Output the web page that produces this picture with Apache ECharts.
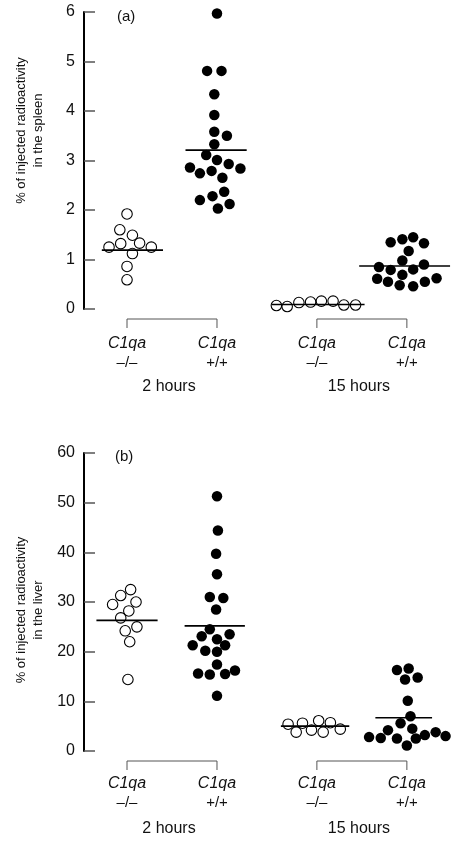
<!DOCTYPE html>
<html>
<head>
<meta charset="utf-8">
<script src="https://cdn.jsdelivr.net/npm/echarts@6/dist/echarts.min.js"></script>
<style>
html,body{margin:0;padding:0;background:#fff;}
#chart{width:456px;height:842px;}
</style>
</head>
<body>
<div id="chart"></div>
<script>
// ---- Data ----
const genotypes = ['–/–', '+/+', '–/–', '+/+'];
const timeLabels = ['2 hours', '15 hours'];
const geneName = 'C1qa';

// Spleen (% injected radioactivity)
const spleenKO2h = [1.92, 1.60, 1.49, 1.32, 1.33, 1.25, 1.25, 1.12, 0.86, 0.59];
const spleenKO2hJit = [0, -0.08, 0.06, -0.07, 0.14, -0.20, 0.27, 0.06, 0, 0];
const spleenWT2h = [5.97, 4.81, 4.81, 4.34, 3.92, 3.58, 3.50, 3.33, 3.11, 3.01, 2.93, 2.86, 2.84, 2.74, 2.79, 2.65, 2.37, 2.28, 2.20, 2.12, 2.03];
const spleenWT2hJit = [0, -0.11, 0.05, -0.03, -0.03, -0.03, 0.11, -0.03, -0.12, 0, 0.13, -0.30, 0.26, -0.19, -0.06, 0.06, 0.08, -0.05, -0.19, 0.14, 0.01];
const spleenKO15h = [0.07, 0.05, 0.13, 0.14, 0.16, 0.16, 0.08, 0.08];
const spleenKO15hJit = [-0.45, -0.33, -0.20, -0.07, 0.05, 0.18, 0.30, 0.43];
const spleenWT15h = [1.35, 1.41, 1.45, 1.33, 1.17, 0.98, 0.85, 0.79, 0.80, 0.90, 0.69, 0.61, 0.55, 0.48, 0.46, 0.55, 0.62];
const spleenWT15hJit = [-0.18, -0.05, 0.07, 0.19, 0.02, -0.05, -0.31, -0.18, 0.07, 0.19, -0.05, -0.33, -0.21, -0.08, 0.07, 0.20, 0.33];
const spleenMeans = [1.19, 3.21, 0.09, 0.87];

// Liver (% injected radioactivity)
const liverKO2h = [32.5, 31.3, 29.5, 30.0, 28.2, 26.8, 25.0, 24.2, 22.0, 14.4];
const liverKO2hJit = [0.04, -0.07, -0.16, 0.10, 0.02, -0.07, 0.11, -0.02, 0.03, 0.01];
const liverWT2h = [51.3, 44.4, 39.7, 35.6, 31.0, 30.8, 28.5, 24.5, 23.1, 23.5, 22.5, 21.3, 21.3, 20.2, 20.0, 17.4, 15.6, 15.4, 15.5, 16.2, 11.1];
const liverWT2hJit = [0, 0.01, -0.01, 0, -0.08, 0.07, -0.01, -0.08, -0.17, 0.14, 0, -0.27, 0.09, -0.13, 0, 0, -0.21, -0.08, 0.09, 0.20, 0];
const liverKO15h = [5.4, 3.8, 5.6, 4.2, 6.1, 3.8, 5.7, 4.4];
const liverKO15hJit = [-0.32, -0.23, -0.16, -0.06, 0.02, 0.07, 0.15, 0.26];
const liverWT15h = [16.3, 16.6, 14.4, 14.8, 10.1, 7.0, 5.6, 4.2, 4.5, 2.8, 2.6, 2.5, 2.5, 3.2, 3.8, 3.0, 1.1];
const liverWT15hJit = [-0.11, 0.02, -0.02, 0.12, 0.01, 0.04, -0.07, -0.21, 0.06, -0.42, -0.29, -0.11, 0.10, 0.20, 0.32, 0.43, 0];
const liverMeans = [26.3, 25.2, 5.0, 6.7];

const spleenTicks = [0, 1, 2, 3, 4, 5, 6];
const liverTicks = [0, 10, 20, 30, 40, 50, 60];

// ---- Layout (not data) ----
const groupPos = [0, 1, 2.11, 3.11];
const meanSpan = [
  [[-0.28, 0.40], [-0.35, 0.33], [-0.50, 0.53], [-0.53, 0.48]],
  [[-0.34, 0.34], [-0.36, 0.31], [-0.40, 0.36], [-0.35, 0.28]]
];
const namePad = [[0, 0, 0, 60], [0, 16, 0, 0]];
const FONT = '"Liberation Sans", Arial, Helvetica, sans-serif';

const panels = [
  {
    name: '% of injected radioactivity\nin the spleen',
    ticks: spleenTicks,
    groups: [[spleenKO2h, spleenKO2hJit], [spleenWT2h, spleenWT2hJit], [spleenKO15h, spleenKO15hJit], [spleenWT15h, spleenWT15hJit]],
    means: spleenMeans
  },
  {
    name: '% of injected radioactivity\nin the liver',
    ticks: liverTicks,
    groups: [[liverKO2h, liverKO2hJit], [liverWT2h, liverWT2hJit], [liverKO15h, liverKO15hJit], [liverWT15h, liverWT15hJit]],
    means: liverMeans
  }
];

const grids = [
  { left: 84, top: 12, width: 372, height: 297, containLabel: false, outerBoundsMode: 'none' },
  { left: 84, top: 453, width: 372, height: 298, containLabel: false, outerBoundsMode: 'none' }
];

const xMin = -0.478, xMax = 3.656;

const xAxes = [], yAxes = [], series = [];
panels.forEach((p, pi) => {
  xAxes.push({
    gridIndex: pi, type: 'value', min: xMin, max: xMax,
    axisLine: { show: false, onZero: false }, axisTick: { show: false }, splitLine: { show: false },
    axisLabel: {
      customValues: groupPos,
      margin: pi === 0 ? 25 : 23,
      formatter: function (v) {
        let idx = 0, best = 1e9;
        groupPos.forEach((g, i) => { if (Math.abs(g - v) < best) { best = Math.abs(g - v); idx = i; } });
        return '{i|' + geneName + '}\n{g|' + genotypes[idx] + '}';
      },
      rich: {
        i: { fontStyle: 'italic', fontSize: 16, lineHeight: 19, fontFamily: FONT, color: '#111' },
        g: { fontSize: 15, lineHeight: 19, fontFamily: FONT, color: '#111' }
      }
    }
  });
  const tk = p.ticks;
  yAxes.push({
    gridIndex: pi, type: 'value', min: tk[0], max: tk[tk.length - 1], interval: tk[1] - tk[0],
    name: p.name, nameLocation: 'middle', nameGap: 37, nameRotate: 90, nameMoveOverlap: false,
    nameTextStyle: { fontSize: 13, fontFamily: FONT, color: '#111', lineHeight: 17, padding: namePad[pi] },
    axisLine: { show: true, onZero: false, lineStyle: { color: '#000', width: 2 } },
    axisTick: { show: true, inside: true, length: 11, lineStyle: { color: '#555', width: 1.5 } },
    splitLine: { show: false },
    axisLabel: { fontSize: 16, fontFamily: FONT, color: '#111', margin: 9 }
  });
  p.groups.forEach((g, gi) => {
    const vals = g[0], jit = g[1];
    const open = (gi % 2 === 0);
    series.push({
      type: 'scatter', xAxisIndex: pi, yAxisIndex: pi,
      symbol: 'circle', symbolSize: 10.5,
      itemStyle: open ? { color: 'rgba(255,255,255,0)', borderColor: '#000', borderWidth: 1.1, opacity: 1 } : { color: '#000', opacity: 1 },
      data: vals.map((v, i) => [groupPos[gi] + jit[i], v]),
      z: 3, silent: true
    });
    const sp = meanSpan[pi][gi];
    series.push({
      type: 'line', xAxisIndex: pi, yAxisIndex: pi, symbol: 'none',
      lineStyle: { color: '#000', width: 1.6 },
      data: [[groupPos[gi] + sp[0], p.means[gi]], [groupPos[gi] + sp[1], p.means[gi]]],
      z: 4, silent: true, animation: false
    });
  });
});

const chart = echarts.init(document.getElementById('chart'), null, { renderer: 'canvas' });
chart.setOption({
  animation: false,
  backgroundColor: '#fff',
  title: [
    { text: '(a)', left: 112, top: 4, textStyle: { fontSize: 15, fontWeight: 'normal', fontFamily: FONT, color: '#111' } },
    { text: '(b)', left: 110, top: 444, textStyle: { fontSize: 15, fontWeight: 'normal', fontFamily: FONT, color: '#111' } }
  ],
  grid: grids,
  xAxis: xAxes,
  yAxis: yAxes,
  series: series
});

// brackets and time labels positioned from the axes
const gElems = [];
panels.forEach((p, pi) => {
  const finder = { xAxisIndex: pi, yAxisIndex: pi };
  [[0, 1], [2, 3]].forEach((pair, k) => {
    const a = chart.convertToPixel(finder, [groupPos[pair[0]], 0]);
    const b = chart.convertToPixel(finder, [groupPos[pair[1]], 0]);
    const y0 = a[1];
    gElems.push({
      type: 'polyline',
      shape: { points: [[a[0], y0 + 19], [a[0], y0 + 10], [b[0], y0 + 10], [b[0], y0 + 19]] },
      style: { stroke: '#555', lineWidth: 1, fill: null }
    });
    gElems.push({
      type: 'text',
      x: (a[0] + b[0]) / 2 - 3, y: y0 + 78,
      style: { text: timeLabels[k], fontSize: 16, fontFamily: FONT, fill: '#111', align: 'center', verticalAlign: 'middle' }
    });
  });
});
chart.setOption({ graphic: gElems });
</script>
</body>
</html>
